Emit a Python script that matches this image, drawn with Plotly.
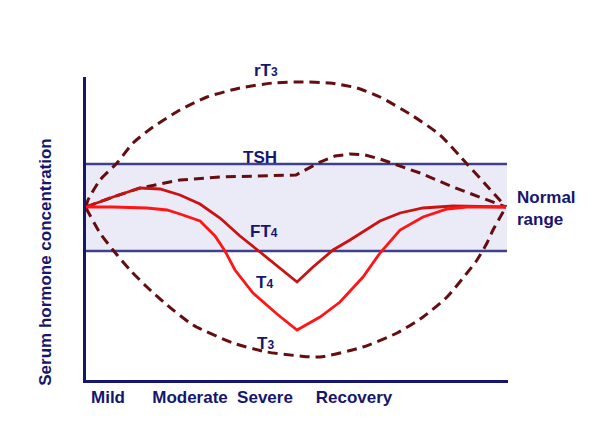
import plotly.graph_objects as go

# Illness severity (arbitrary units, 0 = onset) and serum concentration (arbitrary units)
rt3_x = [0, 2, 14, 31, 47, 67, 94, 121, 154, 187, 214, 244, 271, 294, 327, 354, 381, 401, 420]
rt3_y = [173, 180, 200, 217, 237, 253, 270, 283, 292, 297, 298, 297, 292, 283, 264, 245, 216, 194, 173]

tsh_x = [0, 27, 54, 94, 134, 174, 210, 234, 249, 264, 279, 294, 311, 334, 367, 394, 420]
tsh_y = [173, 183, 192, 200, 203, 204, 205, 218, 224, 226, 225, 221, 215, 207, 193, 183, 173]

ft4_x = [0, 27, 54, 74, 94, 114, 134, 154, 174, 194, 211, 227, 247, 264, 294, 314, 337, 367, 420]
ft4_y = [173, 183, 192, 191, 185, 176, 162, 144, 128, 112, 98, 113, 130, 140, 159, 167, 172, 174, 173]

t4_x = [0, 27, 61, 81, 94, 114, 129, 139, 149, 167, 191, 211, 234, 254, 277, 294, 314, 337, 361, 381, 420]
t4_y = [173, 173, 172, 170, 166, 159, 144, 129, 110, 87, 66, 50, 63, 78, 103, 127, 150, 163, 171, 173, 173]

t3_x = [0, 14, 27, 44, 61, 81, 107, 147, 181, 214, 234, 277, 311, 337, 361, 381, 391, 401, 407, 420]
t3_y = [172, 147, 130, 110, 93, 75, 55, 37, 28, 24, 23, 33, 47, 63, 83, 107, 120, 137, 150, 173]

normal_low, normal_high = 129, 216
x_max, y_max = 422, 303

stage_labels = ["Mild", "Moderate", "Severe", "Recovery"]
stage_pos = [22, 104, 179, 268]

NAVY = "#16166e"
DASH = "#650d10"
FONT = "Liberation Sans"

fig = go.Figure()

# normal range band
fig.add_shape(type="rect", x0=0, x1=421, y0=normal_low, y1=normal_high,
              fillcolor="#ebebf8", line=dict(width=0), layer="below")
for yv in (normal_low, normal_high):
    fig.add_shape(type="line", x0=0, x1=421, y0=yv, y1=yv,
                  line=dict(color="#40408c", width=2.5), layer="below")

fig.add_trace(go.Scatter(x=rt3_x, y=rt3_y, mode="lines", name="rT3",
                         line=dict(color=DASH, width=3, dash="10px,6px", shape="spline", smoothing=0.6)))
fig.add_trace(go.Scatter(x=t3_x, y=t3_y, mode="lines", name="T3",
                         line=dict(color=DASH, width=3, dash="10px,6px", shape="spline", smoothing=0.6)))
fig.add_trace(go.Scatter(x=tsh_x, y=tsh_y, mode="lines", name="TSH",
                         line=dict(color=DASH, width=3, dash="10px,6px")))
fig.add_trace(go.Scatter(x=ft4_x, y=ft4_y, mode="lines", name="FT4",
                         line=dict(color="#cc1111", width=2.8)))
fig.add_trace(go.Scatter(x=t4_x, y=t4_y, mode="lines", name="T4",
                         line=dict(color="#ff1515", width=2.8)))

lab_font = dict(family=FONT, size=17, color=NAVY, weight="bold")
SUB = "<span style='font-size:12px'>{}</span>"
labels = [("TSH", 174, 223), ("FT" + SUB.format("4"), 178, 149),
          ("T" + SUB.format("4"), 178, 98), ("T" + SUB.format("3"), 179, 37)]
for txt, xv, yv in labels:
    fig.add_annotation(x=xv, y=yv, text=txt, showarrow=False, font=lab_font,
                       xanchor="center", yanchor="middle")

# labels lying outside the plotting area (paper coordinates)
fig.add_annotation(xref="paper", yref="paper", x=0.427, y=1.023, text="rT" + SUB.format("3"),
                   showarrow=False, font=lab_font, xanchor="center", yanchor="middle")
fig.add_annotation(xref="paper", yref="paper", x=1.017, y=0.565, text="Normal<br>range",
                   showarrow=False, xanchor="left", yanchor="middle", align="left", font=lab_font)
fig.add_annotation(xref="paper", yref="paper", x=-0.095, y=0.39, text="Serum hormone concentration",
                   textangle=-90, showarrow=False, font=lab_font, xanchor="center", yanchor="middle")

fig.update_layout(
    width=609, height=442,
    margin=dict(l=86, r=101, t=77, b=62),
    paper_bgcolor="white", plot_bgcolor="white",
    showlegend=False,
    xaxis=dict(range=[0, x_max], showgrid=False, zeroline=False, showline=True,
               linecolor=NAVY, linewidth=3, tickvals=stage_pos, ticktext=stage_labels,
               ticks="", tickfont=lab_font, fixedrange=True),
    yaxis=dict(range=[0, y_max], showgrid=False, zeroline=False, showline=True,
               linecolor=NAVY, linewidth=3, showticklabels=False, ticks="", fixedrange=True),
)

fig.write_html("out.html")
